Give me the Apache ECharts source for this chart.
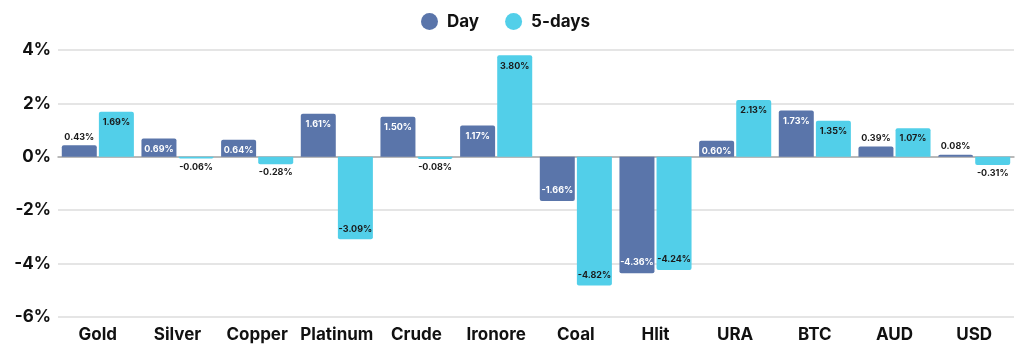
<!DOCTYPE html>
<html><head><meta charset="utf-8">
<script src="https://cdn.jsdelivr.net/npm/echarts@6/dist/echarts.min.js"></script>
<style>html,body{margin:0;padding:0;background:#fff}#c{width:1024px;height:356px}</style>
</head><body><div id="c"></div>
<script>
const categories = ['Gold','Silver','Copper','Platinum','Crude','Ironore','Coal','Hlit','URA','BTC','AUD','USD'];
const dayValues = [0.43,0.69,0.64,1.61,1.50,1.17,-1.66,-4.36,0.60,1.73,0.39,0.08];
const fiveDayValues = [1.69,-0.06,-0.28,-3.09,-0.08,3.80,-4.82,-4.24,2.13,1.35,1.07,-0.31];
const yTicks = [-6,-4,-2,0,2,4];

const FONT = 'Inter';
const DAY_COLOR = '#5a75aa';
const FIVE_COLOR = '#52cfe9';

function makeData(vals, insideColor){
  return vals.map(v => {
    const inside = Math.abs(v) >= 0.5;
    const pos = v >= 0;
    return {
      value: v,
      itemStyle: { borderRadius: pos ? [2,2,0,0] : [0,0,2,2] },
      label: {
        position: inside ? (pos ? 'insideTop' : 'insideBottom') : (pos ? 'top' : 'bottom'),
        color: inside ? insideColor : '#1a1a1a',
        distance: inside ? 6 : 4
      }
    };
  });
}

const chart = echarts.init(document.getElementById('c'));
chart.setOption({
  animation: false,
  backgroundColor: '#fff',
  legend: {
    top: 8, left: 416,
    icon: 'circle', itemWidth: 17, itemHeight: 17, itemGap: 26,
    textStyle: { fontFamily: FONT, fontWeight: 700, fontSize: 17, color: '#111', padding: [0,0,0,4] },
    data: ['Day','5-days']
  },
  grid: { left: 58, right: 10, top: 50, bottom: 39, containLabel: false },
  xAxis: {
    type: 'category', data: categories,
    axisLine: { lineStyle: { color: '#aaa', width: 1.5 } },
    axisTick: { show: false },
    axisLabel: { interval: 0, fontFamily: FONT, fontWeight: 700, fontSize: 17, color: '#111', margin: 9 }
  },
  yAxis: {
    type: 'value', min: yTicks[0], max: yTicks[yTicks.length-1], interval: 2,
    axisLabel: { formatter: '{value}%', fontFamily: FONT, fontWeight: 700, fontSize: 17, color: '#111', margin: 7 },
    splitLine: { lineStyle: { color: '#dcdcdc', width: 1.5 } },
    axisLine: { show: false }, axisTick: { show: false }
  },
  series: [
    { name: 'Day', type: 'bar', data: makeData(dayValues, '#ffffff'), barWidth: 35, barGap: '6%',
      itemStyle: { color: DAY_COLOR },
      label: { show: true, formatter: p => p.value.toFixed(2) + '%', fontFamily: FONT, fontWeight: 700, fontSize: 9 } },
    { name: '5-days', type: 'bar', data: makeData(fiveDayValues, '#1a1a1a'), barWidth: 35,
      itemStyle: { color: FIVE_COLOR },
      label: { show: true, formatter: p => p.value.toFixed(2) + '%', fontFamily: FONT, fontWeight: 700, fontSize: 9 } }
  ]
});
</script></body></html>
